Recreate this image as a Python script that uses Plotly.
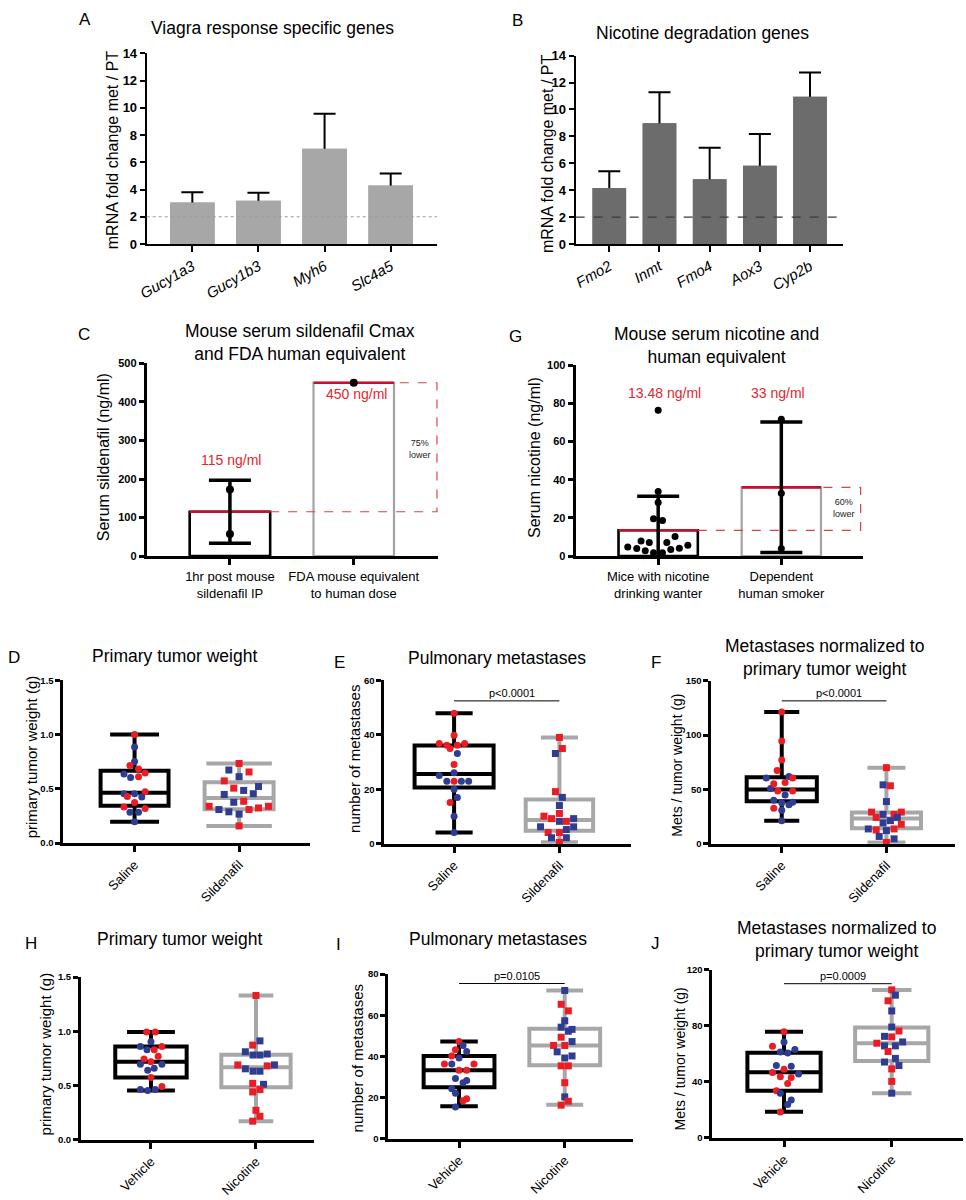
import plotly.graph_objects as go

W, H = 966, 1200
FONT = "Arial, Liberation Sans, sans-serif"
RED = "#ec1c24"
BLUE = "#2e3d92"
LIGHT = "#a7a7a7"
DARK = "#6c6c6c"
LABEL_RED = "#e3262e"

# ---- A: Viagra response specific genes
A_GENES = ["Gucy1a3", "Gucy1b3", "Myh6", "Slc4a5"]
A_MEAN = [3.05, 3.17, 7.0, 4.3]
A_TOP = [3.8, 3.77, 9.57, 5.17]

# ---- B: Nicotine degradation genes
B_GENES = ["Fmo2", "Inmt", "Fmo4", "Aox3", "Cyp2b"]
B_MEAN = [4.16, 8.98, 4.82, 5.82, 10.94]
B_TOP = [5.41, 11.28, 7.15, 8.17, 12.75]
FOLD_THRESHOLD = 2

# ---- C: serum sildenafil
C_GROUPS = ["1hr post mouse<br>sildenafil IP", "FDA mouse equivalent<br>to human dose"]
C_MEAN = [115, 450]
C_SD = [82, 0]
C_POINTS = [[173, 57], [450]]
C_LABELS = ["115 ng/ml", "450 ng/ml"]

# ---- G: serum nicotine
G_GROUPS = ["Mice with nicotine<br>drinking wanter", "Dependent<br>human smoker"]
G_MEAN = [13.48, 36.0]
G_SD = [17.8, 34.2]
G_MOUSE = [4.8, 4.0, 7.9, 2.8, 7.1, 1.7, 1.7, 7.1, 3.4, 10.3, 4.1, 5.7, 19.5, 18.6, 28.1, 33.8, 76.4]
G_MOUSE_JIT = [-0.247, -0.174, -0.139, -0.105, -0.072, -0.038, 0.035, 0.070, 0.102, 0.137,
               0.172, 0.241, -0.038, 0.035, 0, 0, 0]
G_HUMAN = [71.7, 32.9, 4.0]
G_LABELS = ["13.48 ng/ml", "33 ng/ml"]

# ---- box plots: stats are [min, q1, median, q3, max]
D_STATS = [[0.197, 0.345, 0.464, 0.667, 1.0], [0.158, 0.312, 0.415, 0.56, 0.733]]
D_SAL = [1.00, 0.885, 0.752, 0.715, 0.682, 0.636, 0.645, 0.603, 0.612, 0.455, 0.455, 0.473, 0.430,
         0.424, 0.373, 0.333, 0.318, 0.285, 0.285, 0.197]
D_SAL_JIT = [0, 0, 0, -0.044, 0.038, -0.101, 0.101, -0.038, 0.038, -0.101, 0, 0.101, -0.069, 0.069,
             0, -0.101, 0.101, -0.044, 0.038, 0]
D_SAL_COL = "rbbrrbrbrbbrrbrrrbbb"
D_SIL = [0.733, 0.673, 0.655, 0.612, 0.573, 0.506, 0.485, 0.521, 0.448, 0.455, 0.385, 0.376, 0.339,
         0.309, 0.309, 0.288, 0.324, 0.339, 0.267, 0.158]
D_SIL_JIT = [0, -0.098, 0.095, 0, -0.142, -0.051, 0.044, 0.186, -0.142, 0.136, 0.044, -0.051, -0.287,
             -0.193, 0.095, -0.098, 0.186, 0.281, 0, 0]
D_SIL_COL = "rbrbrrbbbbrbrbrbrrbr"

E_STATS = [[4.1, 20.6, 25.6, 36.0, 47.9], [0.5, 4.8, 8.7, 16.2, 39.0]]
E_SAL = [47.9, 39.8, 36.8, 36.1, 34.9, 36.1, 36.8, 33.1, 29.1, 25.0, 26.0, 22.9, 22.9, 22.9, 22.9,
         20.0, 17.0, 15.1, 10.1, 4.1]
E_SAL_JIT = [0, 0, -0.141, -0.069, -0.038, 0.031, 0.100, 0.031, 0, -0.141, 0, -0.069, 0, 0.069, 0.138,
             0, 0.031, -0.038, 0, 0]
E_SAL_COL = "rrrrrrrbrbbbrbbbbrbb"
E_SIL = [39.0, 34.9, 33.1, 19.1, 17.0, 14.0, 11.1, 10.1, 9.2, 8.2, 8.2, 9.2, 6.2, 6.2, 4.1, 4.1, 5.2,
         2.2, 2.2, 0.5]
E_SIL_JIT = [0, 0.028, -0.038, -0.038, 0.028, 0, 0, -0.147, -0.075, 0, 0.066, 0.135, -0.179, 0.135,
             -0.107, 0, 0.066, -0.075, 0.066, 0]
E_SIL_COL = "rrbrbbrrrbrbbbrrbbbr"
E_P = ("p<0.0001", 52.4)

F_STATS = [[21.2, 39.1, 50.0, 61.2, 121.2], [1.2, 14.2, 23.3, 28.8, 70.0]]
F_SAL = [121.2, 94.5, 77.0, 67.3, 60.6, 61.8, 60.6, 50.9, 55.2, 56.4, 48.5, 48.5, 44.8, 40.0, 37.6,
         38.2, 35.8, 32.7, 30.9, 21.2]
F_SAL_JIT = [0, 0, 0, -0.044, -0.148, 0.069, 0.104, -0.107, -0.076, 0.032, -0.038, 0.104, 0.032,
             -0.076, 0, 0.104, 0.069, -0.076, 0, 0]
F_SAL_COL = "rrrrbbrbrrrrbbbbbrbb"
F_SIL = [70.0, 54.2, 53.3, 38.8, 29.1, 27.0, 24.2, 27.0, 29.1, 21.2, 24.2, 19.1, 17.9, 13.6, 12.7,
         13.6, 12.1, 6.7, 4.5, 1.2]
F_SIL_JIT = [0, -0.032, 0.038, 0, -0.142, -0.032, -0.098, 0.073, 0.142, 0.038, 0.104, -0.032, 0.142,
             -0.173, -0.098, 0.073, 0, -0.069, 0.073, 0]
F_SIL_COL = "rbrbrbrrrbbbrbrrbbbr"
F_P = ("p<0.0001", 131.5)

H_STATS = [[0.455, 0.576, 0.721, 0.861, 0.994], [0.173, 0.485, 0.670, 0.785, 1.330]]
H_VEH = [0.994, 0.994, 0.903, 0.861, 0.861, 0.830, 0.830, 0.770, 0.745, 0.721, 0.697, 0.697, 0.661,
         0.642, 0.576, 0.491, 0.464, 0.455, 0.464]
H_VEH_JIT = [-0.041, 0.041, 0, -0.101, 0.104, -0.038, 0.031, 0.069, -0.066, 0, -0.101, 0.104, 0.031,
             -0.031, 0, 0.104, -0.101, -0.031, 0.041]
H_VEH_COL = "rrbbrbrrrrbbbbrrbbb"
H_NIC = [1.330, 0.912, 0.873, 0.812, 0.782, 0.782, 0.791, 0.691, 0.655, 0.633, 0.633, 0.682, 0.691,
         0.521, 0.512, 0.442, 0.464, 0.273, 0.218, 0.173]
H_NIC_JIT = [0, 0.038, -0.031, -0.101, -0.028, 0.038, 0.107, -0.173, -0.101, -0.028, 0.038, 0.107,
             0.176, -0.031, 0.072, -0.031, 0.038, 0, 0.038, -0.031]
H_NIC_COL = "rbrbbbbrbbbrbrbrrrrr"

I_STATS = [[15.7, 25.0, 33.3, 40.2, 47.2], [16.5, 35.7, 45.3, 53.4, 72.0]]
I_VEH = [47.2, 45.3, 43.2, 42.4, 40.2, 39.2, 36.3, 36.3, 36.3, 33.3, 33.3, 29.3, 28.3, 27.2, 24.3,
         22.1, 19.4, 18.4, 15.4]
I_VEH_JIT = [0, 0.038, -0.034, 0.072, -0.069, 0, -0.138, -0.069, 0.141, 0, 0.072, -0.034, 0.072,
             0.038, -0.069, -0.034, 0.072, 0.038, -0.034]
I_VEH_COL = "rbrbrbrbrrrbbbbbrrb"
I_NIC = [72.0, 65.3, 62.1, 57.3, 54.2, 52.2, 53.1, 49.3, 45.3, 45.3, 47.2, 42.2, 39.2, 40.2, 35.4,
         35.4, 27.2, 20.3, 16.3, 18.2]
I_NIC_JIT = [0, -0.034, 0.034, 0, -0.034, 0.034, 0.069, -0.034, -0.106, 0, 0.069, -0.072, 0, 0.069,
             -0.034, 0.034, 0, 0, -0.034, 0.034]
I_NIC_COL = "brrbbbbrrrbbbbrrrbrr"
I_P = ("p=0.0105", 75.4)

J_STATS = [[18.7, 33.7, 46.9, 60.7, 75.7], [31.9, 54.8, 67.5, 78.7, 105.5]]
J_VEH = [75.7, 68.4, 65.4, 61.2, 60.5, 63.0, 51.6, 51.1, 49.0, 45.5, 46.6, 43.6, 43.1, 38.9, 33.7,
         31.9, 27.0, 23.9, 18.5]
J_VEH_JIT = [0, 0, -0.107, -0.034, 0.034, 0.101, -0.071, 0.067, 0, 0.135, -0.107, -0.034, 0.067,
             0.034, -0.071, -0.034, 0.067, 0.034, -0.034]
J_VEH_COL = "rbrbbbbbrbrrrrrbbbr"
J_NIC = [105.5, 101.7, 97.7, 90.5, 79.0, 76.2, 72.4, 72.0, 68.4, 67.5, 65.6, 65.6, 61.6, 56.7, 54.1,
         51.6, 49.2, 40.3, 31.9]
J_NIC_JIT = [0, 0.034, -0.034, 0, 0, 0.067, -0.067, 0, 0.101, -0.138, -0.067, 0.034, -0.034, 0.034,
             -0.067, 0.067, 0, 0, 0]
J_NIC_COL = "rbrbbrbrbrbbrbbbrrb"
J_P = ("p=0.0009", 109.9)


def ax(i):
    return ("x" if i == 1 else f"x{i}", "y" if i == 1 else f"y{i}")


def xd(x0, x1):
    return [x0 / W, x1 / W]


def yd(top, bottom):
    return [1 - bottom / H, 1 - top / H]


fig = go.Figure()
layout = {}
annotations = []
shapes = []


def note(text, x, y, size, color="black", angle=0, **kw):
    annotations.append(dict(text=text, x=x / W, y=1 - y / H, xref="paper", yref="paper",
                            showarrow=False, textangle=angle,
                            font=dict(size=size, color=color, family=FONT),
                            xanchor="center", yanchor="middle", **kw))


def set_axes(i, geom, xr, yr, yticks, xticks, xtext, ysize, xfont, lw=3, fmt=None, angle=0):
    x0, x1, top, bottom = geom
    xa, ya = ax(i)
    common = dict(showline=True, linecolor="black", linewidth=lw, ticks="outside",
                  tickcolor="black", tickwidth=lw, showgrid=False, zeroline=False, fixedrange=True)
    layout["xaxis" if i == 1 else f"xaxis{i}"] = dict(
        domain=xd(x0, x1), range=xr, anchor=ya, tickvals=xticks, ticktext=xtext,
        tickangle=angle, ticklen=6, tickfont=xfont, **common)
    layout["yaxis" if i == 1 else f"yaxis{i}"] = dict(
        domain=yd(top, bottom), range=yr, anchor=xa, tickvals=yticks, tickformat=fmt,
        ticklen=5, tickfont=dict(size=ysize, color="black", family=FONT, weight="bold"), **common)


# ---------------- A and B: bar charts with upward error bars
for i, genes, mean, top, color, width, geom, xr, dash, dcol in [
    (1, A_GENES, A_MEAN, A_TOP, LIGHT, 0.675, (139, 432, 47, 240), [-0.69, 3.70], "dot", "#9a9a9a"),
    (2, B_GENES, B_MEAN, B_TOP, DARK, 0.67, (572, 842, 49.3, 240), [-0.67, 4.66], "dash", "#3a3a3a"),
]:
    xa, ya = ax(i)
    pos = list(range(len(genes)))
    err = [t - m for t, m in zip(top, mean)]
    fig.add_trace(go.Bar(x=pos, y=mean, width=width, marker=dict(color=color, line_width=0),
                         error_y=dict(type="data", array=err, color="black", thickness=2, width=11),
                         xaxis=xa, yaxis=ya, hoverinfo="skip"))
    # same bars again, to hide the lower half of each error bar
    fig.add_trace(go.Bar(x=pos, y=mean, width=width, marker=dict(color=color, line_width=0),
                         xaxis=xa, yaxis=ya, hoverinfo="skip"))
    shapes.append(dict(type="line", xref=f"{xa} domain", yref=ya, x0=0, x1=1,
                       y0=FOLD_THRESHOLD, y1=FOLD_THRESHOLD,
                       line=dict(color=dcol, width=1.2, dash=dash)))
    set_axes(i, geom, xr, [0, 14], list(range(0, 15, 2)), pos, genes, 13,
             dict(size=15, color="black", family=FONT, style="italic"), lw=2, angle=-30)

# ---------------- C and G: bars with red mean line and dashed comparison box
for i, groups, mean, sd, pts, labels, geom, xr, yr, yticks, bw, x_right, lab_pos, note_pos, note_txt in [
    (3, C_GROUPS, C_MEAN, C_SD, C_POINTS, C_LABELS, (139, 433, 361, 556), [-0.672, 1.68], [0, 500],
     list(range(0, 501, 100)), 0.65, 1.672, [(0.01, 249), (1.025, 420)], (1.536, 279), "75%<br>lower"),
    (4, G_GROUPS, G_MEAN, G_SD, [G_MOUSE, G_HUMAN], G_LABELS, (572, 862, 362.7, 556), [-0.67, 1.663],
     [0, 100], list(range(0, 101, 20)), 0.644, 1.644, [(0.05, 85.5), (0.975, 85.5)], (1.51, 25),
     "60%<br>lower"),
]:
    xa, ya = ax(i)
    fig.add_trace(go.Bar(x=[0, 1], y=mean, width=bw,
                         marker=dict(color="white", line=dict(color=["black", "#a3a3a3"], width=[2.6, 2.2])),
                         xaxis=xa, yaxis=ya, hoverinfo="skip"))
    # dashed outline linking the two means
    fig.add_trace(go.Scatter(x=[bw / 2, x_right, x_right, 1 + bw / 2],
                             y=[mean[0], mean[0], mean[1], mean[1]], mode="lines",
                             line=dict(color="#e0404a", width=1.2, dash="dash"),
                             xaxis=xa, yaxis=ya, hoverinfo="skip"))
    for k in range(2):
        fig.add_trace(go.Scatter(x=[k - bw / 2, k + bw / 2], y=[mean[k], mean[k]], mode="lines",
                                 line=dict(color="#c8102e", width=2.6), xaxis=xa, yaxis=ya,
                                 hoverinfo="skip"))
    for k in range(2):
        if sd[k] > 0:
            fig.add_trace(go.Scatter(x=[k], y=[mean[k]], mode="markers",
                                     marker=dict(size=1, color="rgba(0,0,0,0)"),
                                     error_y=dict(type="data", array=[sd[k]], color="black",
                                                  thickness=3.5, width=21),
                                     xaxis=xa, yaxis=ya, hoverinfo="skip"))
    jit = [[0] * len(pts[0]), [0] * len(pts[1])]
    if i == 4:
        jit[0] = G_MOUSE_JIT
    for k in range(2):
        fig.add_trace(go.Scatter(x=[k + j for j in jit[k]], y=pts[k], mode="markers",
                                 marker=dict(size=8 if i == 3 else 7, color="black"),
                                 cliponaxis=False, xaxis=xa, yaxis=ya, hoverinfo="skip"))
    for k in range(2):
        annotations.append(dict(text=labels[k], x=lab_pos[k][0], y=lab_pos[k][1], xref=xa, yref=ya,
                                showarrow=False, font=dict(size=14, color=LABEL_RED, family=FONT)))
    annotations.append(dict(text=note_txt, x=note_pos[0], y=note_pos[1], xref=xa, yref=ya,
                            showarrow=False, font=dict(size=9, color="#222", family=FONT)))
    set_axes(i, geom, xr, yr, yticks, [0, 1], groups, 11,
             dict(size=13, color="black", family=FONT))

# ---------------- D to J: box plots with scatter points
BOX_PANELS = [
    (5, D_STATS, [(D_SAL, D_SAL_JIT, D_SAL_COL), (D_SIL, D_SIL_JIT, D_SIL_COL)], ["Saline", "Sildenafil"],
     (55, 304, 681.7, 846.7), [-0.68, 1.68], [0, 1.5], [0, 0.5, 1.0, 1.5], ".1f", [0.65, 0.66], [0.72, 0.95], None),
    (6, E_STATS, [(E_SAL, E_SAL_JIT, E_SAL_COL), (E_SIL, E_SIL_JIT, E_SIL_COL)], ["Saline", "Sildenafil"],
     (379, 628, 681.7, 847.3), [-0.661, 1.681], [0, 60], [0, 20, 40, 60], None, [0.75, 0.64], [0.47, 0.55], E_P),
    (7, F_STATS, [(F_SAL, F_SAL_JIT, F_SAL_COL), (F_SIL, F_SIL_JIT, F_SIL_COL)], ["Saline", "Sildenafil"],
     (709, 955, 682.3, 847.3), [-0.672, 1.656], [0, 150], [0, 50, 100, 150], None, [0.67, 0.66], [0.5, 0.55], F_P),
    (8, H_STATS, [(H_VEH, H_VEH_JIT, H_VEH_COL), (H_NIC, H_NIC_JIT, H_NIC_COL)], ["Vehicle", "Nicotine"],
     (72.7, 307.7, 982.3, 1147.3), [-0.666, 1.551], [0, 1.5], [0, 0.5, 1.0, 1.5], ".1f", [0.68, 0.66], [0.67, 0.5], None),
    (9, I_STATS, [(I_VEH, I_VEH_JIT, I_VEH_COL), (I_NIC, I_NIC_JIT, I_NIC_COL)], ["Vehicle", "Nicotine"],
     (383, 630, 979.3, 1146), [-0.668, 1.647], [0, 80], [0, 20, 40, 60, 80], None, [0.67, 0.67], [0.53, 0.52], I_P),
    (10, J_STATS, [(J_VEH, J_VEH_JIT, J_VEH_COL), (J_NIC, J_NIC_JIT, J_NIC_COL)], ["Vehicle", "Nicotine"],
     (710, 963, 974.7, 1145.3), [-0.665, 1.662], [0, 120], [0, 40, 80, 120], None, [0.68, 0.68], [0.52, 0.54], J_P),
]

for i, stats, groups, names, geom, xr, yr, yticks, fmt, widths, whisk, pval in BOX_PANELS:
    xa, ya = ax(i)
    for k, (s, color) in enumerate(zip(stats, ["black", LIGHT])):
        fig.add_trace(go.Box(x=[k], lowerfence=[s[0]], q1=[s[1]], median=[s[2]], q3=[s[3]],
                             upperfence=[s[4]], width=widths[k], whiskerwidth=whisk[k],
                             line=dict(color=color, width=4), fillcolor="rgba(0,0,0,0)",
                             boxpoints=False, xaxis=xa, yaxis=ya, hoverinfo="skip"))
    for k, (vals, jit, cols) in enumerate(groups):
        fig.add_trace(go.Scatter(x=[k + j for j in jit], y=vals, mode="markers",
                                 marker=dict(symbol="circle" if k == 0 else "square", size=7,
                                             color=[RED if c == "r" else BLUE for c in cols]),
                                 cliponaxis=False, xaxis=xa, yaxis=ya, hoverinfo="skip"))
    if pval:
        fig.add_trace(go.Scatter(x=[0, 1], y=[pval[1], pval[1]], mode="lines",
                                 line=dict(color="black", width=1), xaxis=xa, yaxis=ya,
                                 hoverinfo="skip"))
        annotations.append(dict(text=pval[0], x=0.55, y=pval[1], xref=xa, yref=ya, yanchor="bottom",
                                showarrow=False, font=dict(size=11, color="black", family=FONT)))
    set_axes(i, geom, xr, yr, yticks, [0, 1], names, 9.5,
             dict(size=13, color="black", family=FONT), fmt=fmt, angle=-45)

# ---------------- titles, panel letters, axis titles
TITLES = [
    ("Viagra response specific genes", 266, 21.7), ("Nicotine degradation genes", 700, 26),
    ("Mouse serum sildenafil Cmax<br>and FDA human equivalent", 294, 340),
    ("Mouse serum nicotine and<br>human equivalent", 714, 342.5),
    ("Primary tumor weight", 166.7, 657.3), ("Pulmonary metastases", 492.7, 659.3),
    ("Metastases normalized to<br>primary tumor weight", 823.3, 659),
    ("Primary tumor weight", 172.5, 943.3), ("Pulmonary metastases", 493.3, 944),
    ("Metastases normalized to<br>primary tumor weight", 835.5, 944.7),
]
for text, x, y in TITLES:
    note(text, x, y, 17.5)

LETTERS = [("A", 77, 12.7), ("B", 513, 14), ("C", 76, 331.7), ("G", 511.7, 333.3), ("D", 5, 658.3),
           ("E", 333.3, 663.3), ("F", 652.7, 663.3), ("H", 22.3, 948.3), ("I", 332.3, 949.3),
           ("J", 652.7, 948.3)]
for text, x, y in LETTERS:
    note(text, x, y, 17)

Y_TITLES = [
    ("mRNA fold change met / PT", 104, 145, 16), ("mRNA fold change met / PT", 543, 148, 16),
    ("Serum sildenafil (ng/ml)", 95, 455.8, 16), ("Serum nicotine (ng/ml)", 531, 456.7, 16),
    ("primary tumor weight (g)", 23, 759, 15), ("number of metastases", 348, 761.7, 15),
    ("Mets / tumor weight (g)", 674, 767.5, 14), ("primary tumor weight (g)", 37, 1060, 15),
    ("number of metastases", 352, 1065, 15), ("Mets / tumor weight (g)", 677, 1065, 14),
]
for text, x, y, size in Y_TITLES:
    note(text, x, y, size, angle=-90)

fig.update_layout(
    width=W, height=H, autosize=False, margin=dict(l=0, r=0, t=0, b=0),
    paper_bgcolor="white", plot_bgcolor="white", showlegend=False, barmode="overlay",
    font=dict(family=FONT, color="black"), annotations=annotations, shapes=shapes, **layout,
)

fig.write_html("out.html", config={"displayModeBar": False},
               post_script="document.body.style.margin = '0';")
